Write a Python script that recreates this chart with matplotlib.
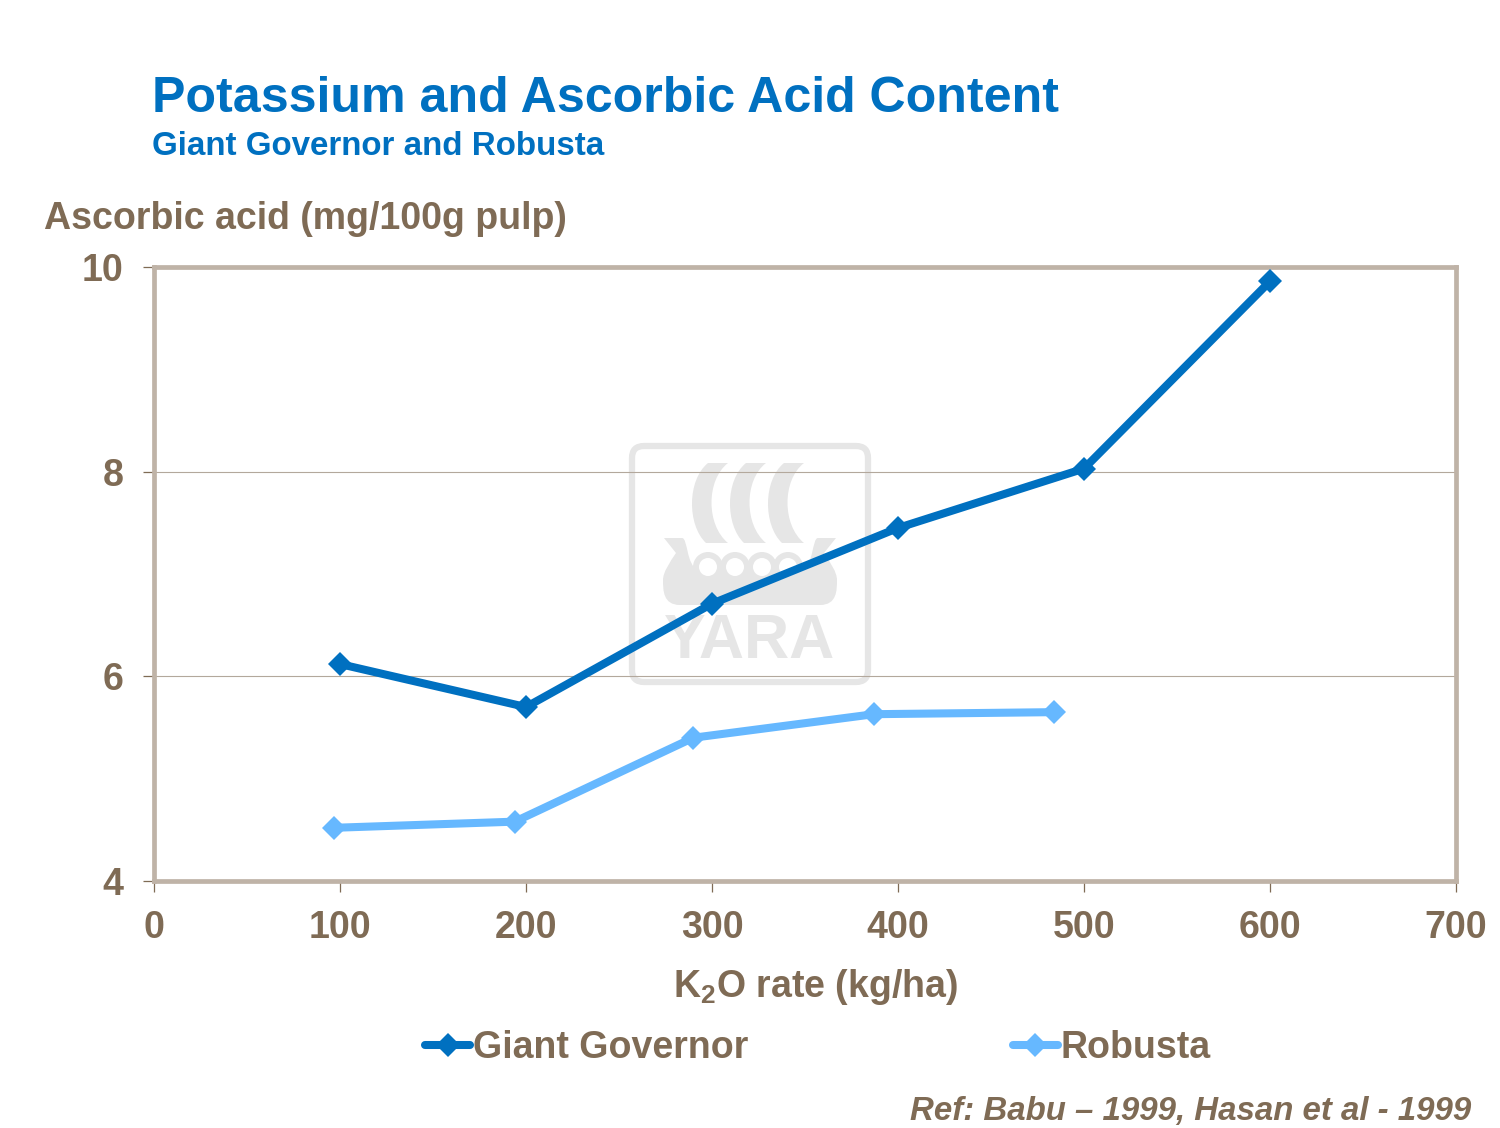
#!/usr/bin/env python3
import matplotlib
matplotlib.use('Agg')
import matplotlib.pyplot as plt
from matplotlib.patches import FancyBboxPatch, PathPatch
from matplotlib.path import Path

plt.rcParams['font.family'] = ['Liberation Sans', 'DejaVu Sans']
plt.rcParams['font.weight'] = 'bold'
plt.rcParams['mathtext.fontset'] = 'custom'
plt.rcParams['mathtext.bf'] = 'Liberation Sans:bold'

W, H = 1500, 1128
brown = '#7F6B55'
blue = '#0070C0'
light_blue = '#66B8FF'
frame = '#BFB3A7'
logo = '#E6E6E6'

# data
giant_x = [100, 200, 300, 400, 500, 600]
giant_y = [6.12, 5.70, 6.71, 7.45, 8.03, 9.86]
robusta_x = [97, 194, 290, 387, 484]
robusta_y = [4.52, 4.58, 5.40, 5.63, 5.65]
x_ticks = [0, 100, 200, 300, 400, 500, 600, 700]
y_ticks = [4, 6, 8, 10]

fig = plt.figure(figsize=(W/100, H/100), dpi=100, facecolor='white')

# watermark, drawn in pixel coordinates behind the chart
bg = fig.add_axes([0, 0, 1, 1], zorder=0)
bg.set_xlim(0, W)
bg.set_ylim(H, 0)
bg.axis('off')
bg.add_patch(FancyBboxPatch((640, 454), 220, 220,
                            boxstyle='round,pad=8,rounding_size=12',
                            fc='none', ec=logo, lw=4.5))


def sail(x):
    verts = [(x + 16, 463), (x + 36, 463),
             (x + 14, 480), (x + 14, 525), (x + 36, 543),
             (x + 14, 543),
             (x - 5, 525), (x - 5, 480), (x + 16, 463)]
    codes = [Path.MOVETO, Path.LINETO,
             Path.CURVE4, Path.CURVE4, Path.CURVE4,
             Path.LINETO,
             Path.CURVE4, Path.CURVE4, Path.CURVE4]
    bg.add_patch(PathPatch(Path(verts, codes), fc=logo, ec='none'))


for sx in [692, 730, 768]:
    sail(sx)


def hull_side(m):
    # m=1 left half, m=-1 right half, both from the centre line x=750
    verts = [(750, 605), (750 - m*70, 605),
             (750 - m*87, 605), (750 - m*87, 590), (750 - m*87, 580),
             (750 - m*87, 572), (750 - m*80, 562), (750 - m*74, 553),
             (750 - m*86, 538), (750 - m*68, 538),
             (750 - m*62, 538), (750 - m*64, 565), (750 - m*52, 570),
             (750, 570), (750, 605)]
    codes = [Path.MOVETO, Path.LINETO,
             Path.CURVE4, Path.CURVE4, Path.CURVE4,
             Path.CURVE4, Path.CURVE4, Path.CURVE4,
             Path.LINETO, Path.LINETO,
             Path.CURVE4, Path.CURVE4, Path.CURVE4,
             Path.LINETO, Path.CLOSEPOLY]
    bg.add_patch(PathPatch(Path(verts, codes), fc=logo, ec='none'))


hull_side(1)
hull_side(-1)
for cx in [708, 735, 762, 788]:
    bg.add_patch(plt.Circle((cx, 567), 15, fc=logo, ec='none'))
for cx in [708, 735, 762, 788]:
    bg.add_patch(plt.Circle((cx, 567), 9, fc='white', ec='none'))
bg.text(750, 642, 'YARA', color=logo, fontsize=45, ha='center', va='center')

# chart
ax = fig.add_axes([154/W, 1 - 881/H, (1456-154)/W, (881-267)/H], zorder=1)
ax.patch.set_alpha(0)
ax.plot(giant_x, giant_y, color=blue, lw=5.8, marker='D', ms=12, mew=0,
        label='Giant Governor', solid_capstyle='round', clip_on=False, zorder=4)
ax.plot(robusta_x, robusta_y, color=light_blue, lw=5.8, marker='D', ms=12, mew=0,
        label='Robusta', solid_capstyle='round', clip_on=False, zorder=3)

ax.set_xlim(0, 700)
ax.set_ylim(4, 10)
ax.set_xticks(x_ticks)
ax.set_yticks(y_ticks)
ax.grid(axis='y', color='#B3A89C', lw=0.8)
ax.set_axisbelow(True)
ax.tick_params(length=8, width=0.9, color=brown, labelcolor=brown,
               labelsize=27, pad=13)
ax.tick_params(axis='y', pad=14)
for s in ax.spines.values():
    s.set_color(frame)
    s.set_linewidth(3.4)
ax.axhline(4, color=brown, lw=0.9, zorder=2)
ax.axvline(0, color=brown, lw=0.9, zorder=2)
ax.axhline(10, color=brown, lw=0.9, alpha=0.6, zorder=2)

# text
fig.text(152/W, 1 - 112/H, 'Potassium and Ascorbic Acid Content', color=blue,
         fontsize=36.1, va='baseline')
fig.text(152/W, 1 - 155/H, 'Giant Governor and Robusta', color=blue,
         fontsize=23.9, va='baseline')
fig.text(44/W, 1 - 229/H, 'Ascorbic acid (mg/100g pulp)', color=brown,
         fontsize=27, va='baseline')
fig.text(815/W, 1 - 997/H, r'K$_{\mathbf{2}}$O rate (kg/ha)', color=brown,
         fontsize=27, ha='center', va='baseline')
fig.text(1471/W, 1 - 1120/H, 'Ref: Babu \u2013 1999, Hasan et al - 1999', color=brown,
         fontsize=23.8, style='italic', ha='right', va='baseline')

leg = fig.legend(loc='center left', bbox_to_anchor=(425/W, 1 - 1048/H), ncol=2,
                 frameon=False, fontsize=27, handlelength=1.2, handletextpad=0.08,
                 columnspacing=7.05, borderpad=0, borderaxespad=0)
for t in leg.get_texts():
    t.set_color(brown)

fig.savefig('out.png', dpi=100)
